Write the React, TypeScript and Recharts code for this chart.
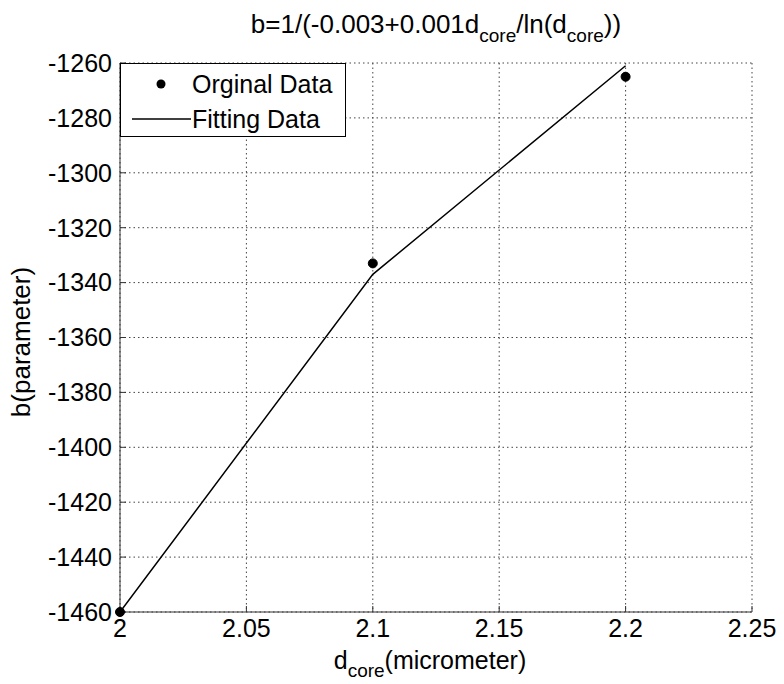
import React from 'react';
import { ComposedChart, Line, XAxis, YAxis, CartesianGrid, Customized } from 'recharts';

const xValues = [2, 2.1, 2.2];
const originalValues = [-1460, -1333, -1265];
const fittingValues = [-1460, -1337, -1261];
const xTicks = [2, 2.05, 2.1, 2.15, 2.2, 2.25];
const yTicks = [-1460, -1440, -1420, -1400, -1380, -1360, -1340, -1320, -1300, -1280, -1260];

const data = xValues.map((x, i) => ({ x, orig: originalValues[i], fit: fittingValues[i] }));

const FONT = 'Liberation Sans, Arial, sans-serif';
const FS = 25;

const Texts = () => (
  <g>
    <text x={436} y={33} textAnchor="middle" fontFamily={FONT} fontSize={26} fill="#000">
      <tspan>b=1/(-0.003+0.001d</tspan>
      <tspan fontSize={19} dy={9}>core</tspan>
      <tspan dy={-9}>/ln(d</tspan>
      <tspan fontSize={19} dy={9}>core</tspan>
      <tspan dy={-9}>))</tspan>
    </text>
    <text x={430} y={669} textAnchor="middle" fontFamily={FONT} fontSize={FS} fill="#000">
      <tspan>d</tspan>
      <tspan fontSize={19} dy={8}>core</tspan>
      <tspan dy={-8}>(micrometer)</tspan>
    </text>
    <text
      x={30}
      y={342}
      textAnchor="middle"
      fontFamily={FONT}
      fontSize={26}
      fill="#000"
      transform="rotate(-90 30 342)"
    >
      b(parameter)
    </text>
  </g>
);

const LegendBox = () => (
  <div
    style={{
      position: 'absolute',
      left: 120,
      top: 63,
      width: 226,
      height: 74,
      border: '1px solid #000',
      background: '#fff',
      boxSizing: 'border-box',
      fontFamily: FONT,
      fontSize: FS,
      color: '#000',
    }}
  >
    <svg width={72} height={72} style={{ position: 'absolute', left: 0, top: 0 }}>
      <circle cx={40} cy={20} r={4.5} fill="#000" />
      <line x1={11} y1={55} x2={70} y2={55} stroke="#000" strokeWidth={1.5} />
    </svg>
    <div style={{ position: 'absolute', left: 71, top: 5, lineHeight: '30px', whiteSpace: 'nowrap' }}>Orginal Data</div>
    <div style={{ position: 'absolute', left: 71, top: 40, lineHeight: '30px', whiteSpace: 'nowrap' }}>Fitting Data</div>
  </div>
);

export default function App() {
  return (
    <div style={{ position: 'absolute', left: 0, top: 0, width: 784, height: 684, background: '#fff' }}>
      <ComposedChart
        width={784}
        height={684}
        data={data}
        margin={{ top: 63, right: 32, bottom: 0, left: 0 }}
      >
        <CartesianGrid xAxisId="bottom" yAxisId="left" stroke="#444" strokeDasharray="1.5 3" />
        <XAxis
          xAxisId="bottom"
          dataKey="x"
          type="number"
          domain={[2, 2.25]}
          ticks={xTicks}
          tickFormatter={(v: number) => String(v)}
          height={72}
          tickSize={-6}
          tickMargin={13}
          stroke="#333"
          tick={{ fill: '#000', fontSize: FS, fontFamily: FONT }}
        />
        <XAxis
          xAxisId="top"
          orientation="top"
          dataKey="x"
          type="number"
          domain={[2, 2.25]}
          ticks={xTicks}
          tick={false}
          tickSize={-6}
          height={0}
          stroke="#333"
        />
        <YAxis
          yAxisId="left"
          type="number"
          domain={[-1460, -1260]}
          ticks={yTicks}
          width={120}
          tickSize={-6}
          tickMargin={14}
          stroke="#333"
          tick={{ fill: '#000', fontSize: FS, fontFamily: FONT }}
        />
        <YAxis
          yAxisId="right"
          orientation="right"
          type="number"
          domain={[-1460, -1260]}
          ticks={yTicks}
          tick={false}
          tickSize={-6}
          width={0}
          stroke="#333"
        />
        <Line
          xAxisId="bottom"
          yAxisId="left"
          dataKey="fit"
          stroke="#000"
          strokeWidth={1.5}
          dot={false}
          isAnimationActive={false}
          name="Fitting Data"
        />
        <Line
          xAxisId="bottom"
          yAxisId="left"
          dataKey="orig"
          stroke="none"
          dot={{ r: 4.5, fill: '#000', stroke: '#000', strokeWidth: 1 }}
          activeDot={false}
          isAnimationActive={false}
          name="Orginal Data"
        />
        <Customized component={Texts} />
      </ComposedChart>
      <LegendBox />
    </div>
  );
}
